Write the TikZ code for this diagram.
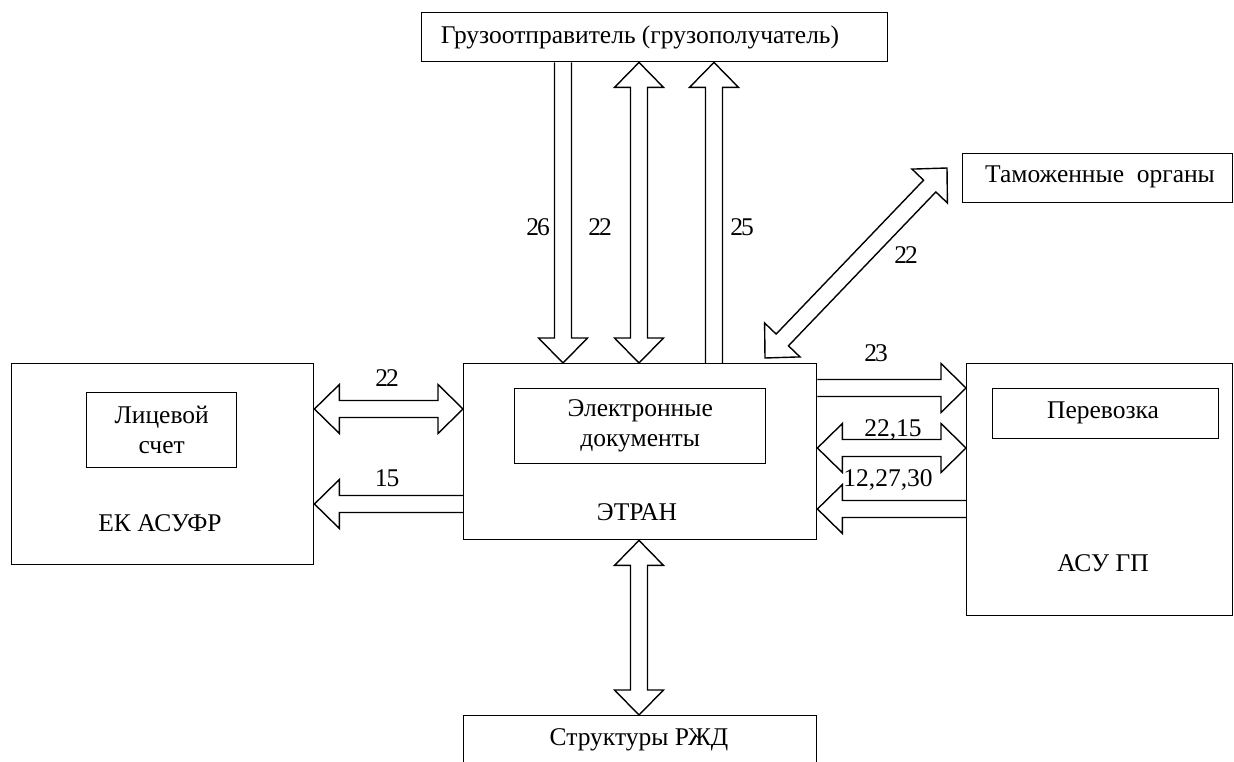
\documentclass[tikz,border=0pt]{standalone}
\usepackage{fontspec}
\setmainfont{Liberation Serif}
\usetikzlibrary{calc}
\def\fatS{8.5pt}
\def\fatH{24.5pt}
\def\fatL{25pt}
% single fat arrow: tail #1, tip #2
\newcommand\fatone[2]{%
  \path (#2) coordinate (fT) ($(#2)!\fatL!(#1)$) coordinate (fB);
  \draw[fatline] ($(#1)!\fatS!90:(fT)$) -- ($(fB)!\fatS!90:(fT)$) -- ($(fB)!\fatH!90:(fT)$) -- (fT)
     -- ($(fB)!\fatH!-90:(fT)$) -- ($(fB)!\fatS!-90:(fT)$) -- ($(#1)!\fatS!-90:(fT)$);
}
% double fat arrow between #1 and #2
\newcommand\fattwo[2]{%
  \path (#1) coordinate (fA) (#2) coordinate (fT) ($(#2)!\fatL!(#1)$) coordinate (fB) ($(#1)!\fatL!(#2)$) coordinate (fC);
  \draw[fatline] (fA) -- ($(fC)!\fatH!90:(fT)$) -- ($(fC)!\fatS!90:(fT)$) -- ($(fB)!\fatS!90:(fT)$) -- ($(fB)!\fatH!90:(fT)$) -- (fT)
     -- ($(fB)!\fatH!-90:(fT)$) -- ($(fB)!\fatS!-90:(fT)$) -- ($(fC)!\fatS!-90:(fT)$) -- ($(fC)!\fatH!-90:(fT)$) -- cycle;
}
\begin{document}
\begin{tikzpicture}[x=1pt,y=-1pt,line width=1.4pt,
  box/.style={draw,inner sep=0pt,anchor=north west},
  txt/.style={font=\fontsize{25.5}{30}\selectfont,inner sep=0pt,align=center},
  num/.style={font=\fontsize{25.5}{30}\selectfont,inner sep=0pt},
  fatline/.style={draw,line width=1.4pt,line join=miter}]
\clip (0,0) rectangle (1234,762);
\fill[white] (0,0) rectangle (1234,762);
% boxes
\node[box,minimum width=466pt,minimum height=49pt] (top) at (421,12) {};
\node[box,minimum width=353pt,minimum height=176pt] (etran) at (463,363) {};
\node[box,minimum width=251pt,minimum height=75pt] (edoc) at (514,388) {};
\node[box,minimum width=302pt,minimum height=201pt] (ek) at (11,363) {};
\node[box,minimum width=150pt,minimum height=75pt] (lic) at (86,392) {};
\node[box,minimum width=270pt,minimum height=49pt] (tam) at (962,153) {};
\node[box,minimum width=266pt,minimum height=252pt] (asu) at (966,363) {};
\node[box,minimum width=226pt,minimum height=50pt] (per) at (992,388) {};
\node[box,minimum width=353pt,minimum height=80pt] (rzd) at (463,715) {};
% texts
\node[txt] (ttop) at (640,37) {Грузоотправитель (грузополучатель)};
\node[txt] (tedoc) at (edoc.center) {Электронные\\документы};
\node[txt] (tetran) at (637,512) {ЭТРАН};
\node[txt] (tlic) at (lic.center) {Лицевой\\счет};
\node[txt] (tek) at (160,523) {ЕК АСУФР};
\node[txt] (ttam) at (1100,177) {Таможенные\ \ органы};
\node[txt] (tper) at (1103,413) {Перевозка};
\node[txt] (tasu) at (1103,563) {АСУ ГП};
\node[txt] (trzd) at (639,740) {Структуры\ РЖД};
% anchor columns / rows
\coordinate (x26) at (563,0);
\coordinate (x22) at (639,0);
\coordinate (x25) at (714,0);
\coordinate (y22) at (0,409);
\coordinate (y15) at (0,504);
\coordinate (y23) at (0,388);
\coordinate (y2215) at (0,448);
\coordinate (y122730) at (0,509);
\coordinate (a26) at (top.south -| x26);
\coordinate (b26) at (etran.north -| x26);
\coordinate (a22) at (top.south -| x22);
\coordinate (b22) at (etran.north -| x22);
\coordinate (a25) at (etran.north -| x25);
\coordinate (b25) at (top.south -| x25);
\coordinate (d1) at (765,358);
\coordinate (d2) at (947,168);
\coordinate (l22a) at (ek.east |- y22);
\coordinate (l22b) at (etran.west |- y22);
\coordinate (l15a) at (etran.west |- y15);
\coordinate (l15b) at (ek.east |- y15);
\coordinate (r23a) at (etran.east |- y23);
\coordinate (r23b) at (asu.west |- y23);
\coordinate (r2215a) at (etran.east |- y2215);
\coordinate (r2215b) at (asu.west |- y2215);
\coordinate (r12a) at (asu.west |- y122730);
\coordinate (r12b) at (etran.east |- y122730);
\coordinate (bt1) at (etran.south -| x22);
\coordinate (bt2) at (rzd.north -| x22);
% connectors
\fatone{a26}{b26}
\fattwo{a22}{b22}
\fatone{a25}{b25}
\fattwo{d1}{d2}
\fattwo{l22a}{l22b}
\fatone{l15a}{l15b}
\fatone{r23a}{r23b}
\fattwo{r2215a}{r2215b}
\fatone{r12a}{r12b}
\fattwo{bt1}{bt2}
% labels
\node[num] (n26) at (538,227) {2\kern-2pt 6};
\node[num] (n22t) at (600,227) {2\kern-2pt 2};
\node[num] (n25) at (742,227) {2\kern-2pt 5};
\node[num] (n22d) at (906,255) {2\kern-2pt 2};
\node[num] (n22l) at (387,378) {2\kern-2pt 2};
\node[num] (n15) at (387,478) {1\kern-1pt 5};
\node[num] (n23) at (876,353) {2\kern-2pt 3};
\node[num] (n2215) at (893,430) {22,15};
\node[num] (n122730) at (888,480) {12,27,30};
\end{tikzpicture}
\end{document}
